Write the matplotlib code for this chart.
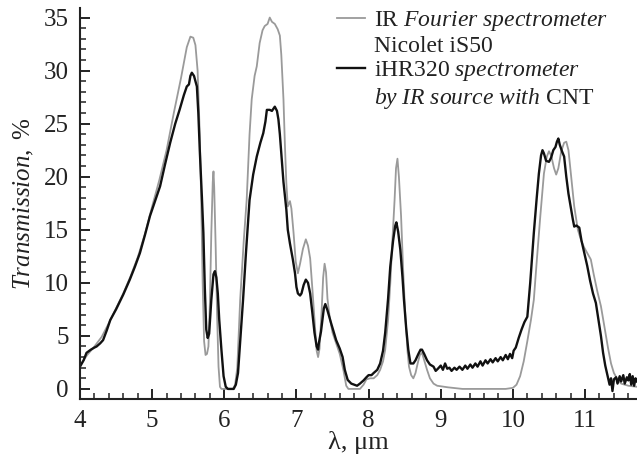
import matplotlib
matplotlib.use("Agg")
import matplotlib.pyplot as plt
from matplotlib.lines import Line2D
from matplotlib.ticker import MultipleLocator

plt.rcParams['font.family'] = ['Liberation Serif', 'DejaVu Serif']
plt.rcParams['mathtext.fontset'] = 'custom'
plt.rcParams['mathtext.rm'] = 'Liberation Serif'
plt.rcParams['mathtext.it'] = 'Liberation Serif:italic'

# IR Fourier spectrometer Nicolet iS50 (grey)
ftir_x = [4.00, 4.10, 4.20, 4.30, 4.40, 4.50, 4.60, 4.70, 4.80, 4.90, 5.00, 5.10, 5.20,
          5.30, 5.40, 5.48, 5.53, 5.57, 5.60, 5.63, 5.66, 5.68, 5.70, 5.72, 5.74, 5.76,
          5.78, 5.80, 5.82, 5.84, 5.85, 5.86, 5.88, 5.90, 5.92, 5.94, 5.96, 6.12, 6.15,
          6.18, 6.22, 6.27, 6.31, 6.35, 6.38, 6.42, 6.45, 6.49, 6.53, 6.56, 6.60, 6.63,
          6.66, 6.70, 6.74, 6.77, 6.79, 6.82, 6.84, 6.86, 6.88, 6.91, 6.93, 6.96, 6.99,
          7.02, 7.05, 7.09, 7.13, 7.16, 7.19, 7.22, 7.25, 7.28, 7.30, 7.32, 7.35, 7.37,
          7.39, 7.41, 7.43, 7.46, 7.50, 7.55, 7.60, 7.65, 7.69, 7.72, 7.88, 7.93, 7.97,
          8.02, 8.07, 8.12, 8.16, 8.20, 8.23, 8.27, 8.30, 8.33, 8.36, 8.38, 8.40, 8.42,
          8.45, 8.48, 8.51, 8.54, 8.56, 8.59, 8.62, 8.65, 8.68, 8.71, 8.74, 8.77, 8.81,
          8.85, 8.90, 8.95, 9.00, 9.10, 9.30, 9.60, 9.90, 10.00, 10.05, 10.10, 10.15,
          10.20, 10.25, 10.29, 10.33, 10.38, 10.43, 10.47, 10.50, 10.53, 10.57, 10.60,
          10.63, 10.67, 10.71, 10.74, 10.77, 10.80, 10.85, 10.90, 10.95, 10.99, 11.04,
          11.08, 11.12, 11.17, 11.22, 11.27, 11.32, 11.36, 11.40, 11.45, 11.50, 11.60, 11.72]
ftir_y = [2.2, 3.2, 4.0, 4.9, 6.2, 7.6, 9.0, 10.6, 12.4, 14.6, 17.2, 19.7, 22.5,
          26.0, 29.3, 32.2, 33.2, 33.1, 32.4, 30.0, 24.0, 17.8, 10.0, 4.5, 3.2, 3.3,
          4.0, 8.0, 14.7, 19.5, 20.5, 19.0, 13.5, 7.0, 2.1, 0.2, 0.0, 0.0, 0.4,
          2.0, 8.4, 14.0, 17.8, 24.0, 27.3, 29.5, 30.4, 32.6, 33.8, 34.2, 34.4, 35.0,
          34.6, 34.4, 33.9, 33.3, 31.5, 27.3, 23.0, 19.4, 17.2, 17.7, 17.0, 14.7, 12.0,
          10.9, 11.8, 13.2, 14.1, 13.5, 12.3, 9.5, 6.5, 3.6, 3.0, 3.8, 7.5, 10.5,
          11.8, 11.0, 8.5, 6.8, 5.3, 4.3, 3.3, 1.8, 0.3, 0.0, 0.0, 0.4, 0.9,
          1.0, 1.0, 1.3, 1.8, 2.6, 3.7, 6.5, 9.9, 14.0, 17.8, 20.8, 21.7, 20.0,
          16.3, 11.0, 6.8, 3.5, 2.1, 1.3, 1.0, 1.5, 2.4, 3.2, 3.4, 2.7, 1.8,
          1.0, 0.5, 0.3, 0.25, 0.15, 0.0, 0.0, 0.0, 0.1, 0.4, 1.2, 2.6,
          4.5, 6.5, 8.4, 12.0, 16.3, 20.3, 21.9, 22.4, 22.0, 20.8, 20.2,
          20.8, 22.4, 23.2, 23.3, 22.5, 20.5, 17.2, 15.0, 13.9, 13.3, 12.7,
          12.2, 10.8, 9.2, 7.8, 5.8, 3.8, 2.4, 1.5, 0.9, 0.5, 0.3, 0.2]

# iHR320 spectrometer with CNT IR source (black)
ihr_x = [4.00, 4.05, 4.09, 4.15, 4.20, 4.23, 4.28, 4.32, 4.37, 4.42, 4.50, 4.60, 4.69,
         4.76, 4.83, 4.90, 4.97, 5.04, 5.11, 5.18, 5.25, 5.32, 5.38, 5.44, 5.48, 5.51,
         5.53, 5.55, 5.58, 5.62, 5.64, 5.66, 5.69, 5.71, 5.73, 5.75, 5.77, 5.79, 5.82,
         5.85, 5.87, 5.89, 5.91, 5.93, 5.96, 5.99, 6.02, 6.05, 6.13, 6.16, 6.19, 6.22,
         6.26, 6.30, 6.35, 6.40, 6.45, 6.50, 6.54, 6.57, 6.59, 6.63, 6.66, 6.68, 6.70,
         6.73, 6.75, 6.77, 6.79, 6.82, 6.86, 6.88, 6.91, 6.95, 6.98, 7.00, 7.02, 7.05,
         7.07, 7.10, 7.13, 7.16, 7.19, 7.22, 7.25, 7.28, 7.30, 7.31, 7.34, 7.36, 7.38,
         7.40, 7.43, 7.48, 7.52, 7.55, 7.60, 7.64, 7.67, 7.71, 7.76, 7.80, 7.84, 7.88,
         7.93, 7.97, 8.00, 8.04, 8.07, 8.12, 8.16, 8.20, 8.23, 8.27, 8.30, 8.34, 8.37,
         8.385, 8.41, 8.44, 8.47, 8.49, 8.52, 8.55, 8.58, 8.62, 8.65, 8.69, 8.72, 8.74,
         8.77, 8.81, 8.85, 8.90, 8.93, 8.96, 9.00, 9.03, 9.06, 9.09, 9.12, 9.15, 9.19,
         9.22, 9.26, 9.30, 9.34, 9.37, 9.41, 9.44, 9.48, 9.51, 9.55, 9.58, 9.62, 9.65,
         9.69, 9.72, 9.76, 9.79, 9.83, 9.86, 9.90, 9.93, 9.96, 9.99, 10.01, 10.04, 10.08,
         10.12, 10.16, 10.20, 10.24, 10.29, 10.33, 10.36, 10.39, 10.41, 10.43, 10.46,
         10.50, 10.53, 10.56, 10.59, 10.61, 10.63, 10.65, 10.68, 10.71, 10.74, 10.77,
         10.80, 10.83, 10.85, 10.88, 10.92, 10.95, 10.99, 11.03, 11.07, 11.11, 11.15,
         11.18, 11.22, 11.25, 11.28, 11.32, 11.34, 11.36, 11.38, 11.40, 11.43, 11.45,
         11.48, 11.50, 11.53, 11.55, 11.58, 11.60, 11.62, 11.64, 11.66, 11.68, 11.70, 11.72]
ihr_y = [2.1, 2.7, 3.4, 3.7, 3.9, 4.0, 4.3, 4.6, 5.5, 6.5, 7.5, 8.9, 10.3,
         11.5, 12.8, 14.5, 16.3, 17.7, 19.1, 21.2, 23.2, 25.0, 26.3, 27.7, 28.5, 28.7,
         29.5, 29.8, 29.5, 28.5, 26.0, 22.5, 18.0, 14.7, 9.5, 5.6, 4.8, 5.2, 8.4,
         10.8, 11.1, 10.5, 9.0, 6.5, 3.7, 1.2, 0.2, 0.0, 0.0, 0.4, 1.5, 4.5,
         8.4, 12.8, 17.8, 20.2, 21.9, 23.2, 24.1, 25.2, 26.3, 26.3, 26.2, 26.4, 26.6,
         26.2, 25.4, 24.0, 22.2, 19.5, 16.9, 15.0, 13.7, 12.2, 10.9, 9.6, 9.0, 8.8,
         9.0, 9.8, 10.3, 10.0, 9.0, 7.2, 5.3, 4.0, 3.7, 4.3, 5.4, 6.5, 7.6,
         8.0, 7.4, 6.2, 5.3, 4.6, 3.8, 3.0, 1.8, 0.85, 0.5, 0.4, 0.3, 0.5,
         0.8, 1.1, 1.3, 1.3, 1.5, 1.8, 2.4, 3.6, 5.3, 8.5, 11.5, 14.0, 15.4,
         15.7, 14.8, 13.1, 10.5, 8.4, 5.8, 3.7, 2.4, 2.4, 2.7, 3.3, 3.7, 3.7,
         3.3, 2.7, 2.3, 2.1, 1.7, 1.9, 2.2, 1.8, 2.4, 1.9, 2.0, 1.7, 2.0,
         1.8, 2.1, 1.8, 2.2, 1.9, 2.3, 2.0, 2.4, 2.1, 2.6, 2.2, 2.7, 2.4,
         2.8, 2.5, 2.9, 2.6, 3.0, 2.7, 3.2, 2.8, 3.3, 2.9, 3.6, 3.9, 4.8,
         5.6, 6.3, 6.8, 10.0, 14.7, 18.0, 20.3, 22.0, 22.5, 22.2, 21.5,
         21.4, 21.8, 22.5, 22.8, 23.3, 23.6, 23.0, 22.4, 21.9, 20.0, 18.4,
         17.2, 16.0, 15.3, 15.4, 15.2, 14.0, 12.8, 11.6, 10.2, 9.0, 8.1,
         6.8, 5.0, 3.4, 2.2, 1.0, 0.4, 1.0, -0.2, 0.9, 1.1, 0.5,
         1.2, 0.7, 1.3, 0.5, 1.1, 0.8, 1.4, 0.4, 1.2, 0.3, 1.0, 0.7]

x_ticks = [4, 5, 6, 7, 8, 9, 10, 11]
y_ticks = [0, 5, 10, 15, 20, 25, 30, 35]

fig = plt.figure(figsize=(6.37, 4.62), dpi=100)
ax = fig.add_axes([80 / 637, 1 - 399 / 462, 557 / 637, 391 / 462])

ax.plot(ftir_x, ftir_y, color='#9a9a9a', lw=1.3)
ax.plot(ihr_x, ihr_y, color='#111111', lw=1.7)

ax.set_xlim(4, 11.72)
ax.set_ylim(-0.95, 35.9)
ax.set_xticks(x_ticks)
ax.set_yticks(y_ticks)
ax.xaxis.set_minor_locator(MultipleLocator(0.2))
ax.yaxis.set_minor_locator(MultipleLocator(1))

for s in ['top', 'right']:
    ax.spines[s].set_visible(False)
for s in ['left', 'bottom']:
    ax.spines[s].set_linewidth(1.5)
    ax.spines[s].set_color('#222222')

ax.tick_params(which='major', direction='in', length=7, width=1.4, labelsize=18,
               pad=8, colors='#222222')
ax.tick_params(which='minor', direction='in', length=4, width=1.1, colors='#222222')

ax.set_xlabel('λ, μm', fontsize=19, labelpad=-1, color='#222222')
ax.set_ylabel(r'$\mathit{Transmission},$ %', fontsize=18, labelpad=6, color='#222222')

handles = [Line2D([], [], color='#9a9a9a', lw=1.3),
           Line2D([], [], color='none'),
           Line2D([], [], color='#111111', lw=1.7),
           Line2D([], [], color='none')]
labels = [r'IR $\mathit{Fourier\ spectrometer}$',
          'Nicolet iS50',
          r'iHR320 $\mathit{spectrometer}$',
          r'$\mathit{by\ IR\ source\ with}$ CNT']
leg = fig.legend(handles, labels, loc='upper left', bbox_to_anchor=(337 / 637, 1 - 9 / 462),
                 frameon=False, fontsize=17, borderpad=0, borderaxespad=0,
                 handlelength=1.2, handletextpad=0.35, labelspacing=0.1)
for t in leg.get_texts():
    t.set_color('#222222')

fig.savefig('out.png', dpi=100)
